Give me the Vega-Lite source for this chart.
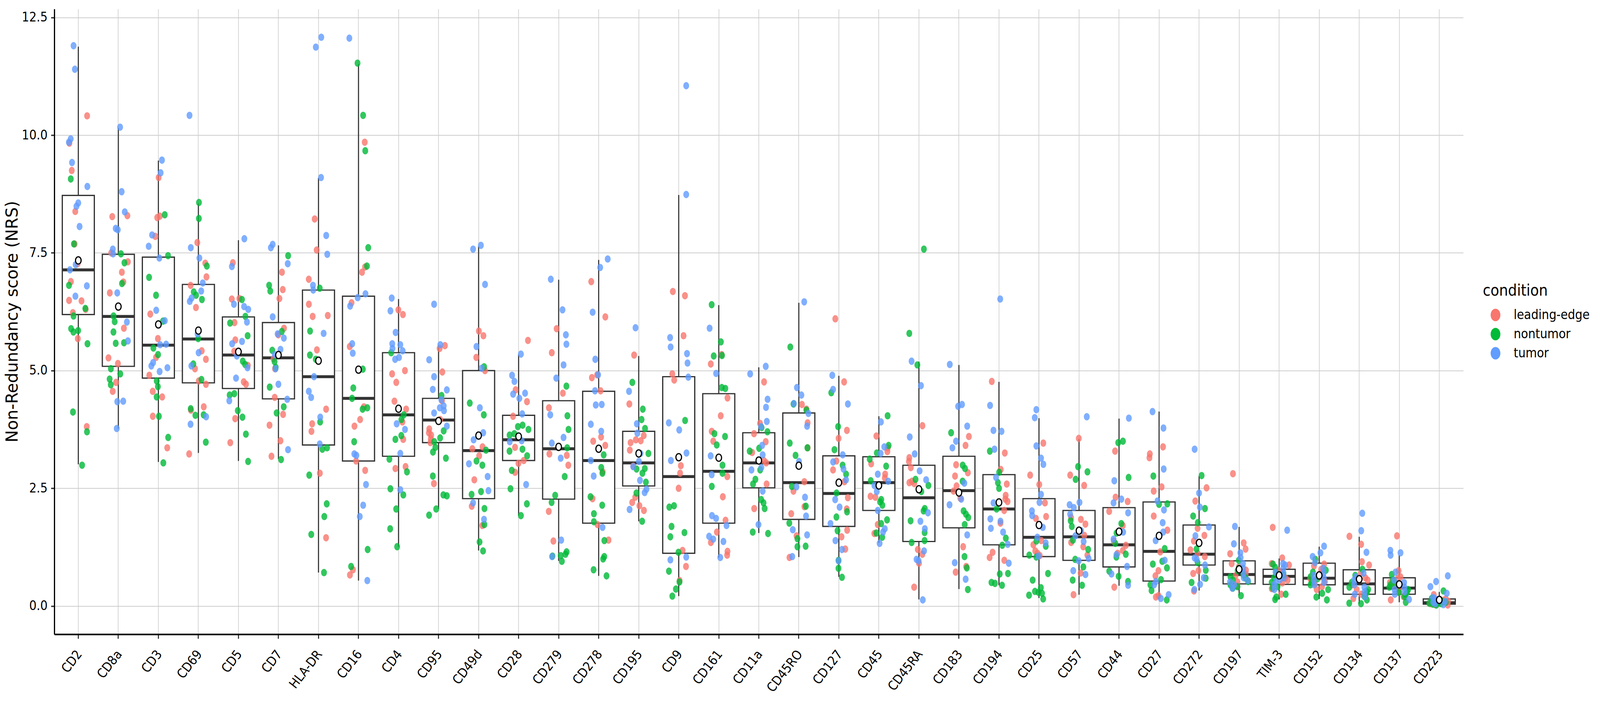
{
  "$schema": "https://vega.github.io/schema/vega-lite/v6.json",
  "description": "Non-Redundancy scores per marker: boxplots with jittered samples coloured by condition and mean points.",
  "width": 3607,
  "height": 1601,
  "autosize": {"type": "none"},
  "padding": {"left": 139, "top": 23, "right": 350, "bottom": 176},
  "background": "white",
  "config": {
    "font": "DejaVu Sans",
    "view": {"stroke": null},
    "axis": {
      "labelColor": "#000000",
      "titleFont": "DejaVu Sans",
      "titleFontSize": 42,
      "titleFontWeight": "normal",
      "titleColor": "#000000",
      "domainColor": "#000000",
      "tickColor": "#333333",
      "gridColor": "#cccccc"
    },
    "axisX": {
      "labelFont": "DejaVu Sans Condensed",
      "labelFontSize": 33,
      "domainWidth": 4,
      "tickWidth": 2.8,
      "tickSize": 11,
      "gridWidth": 1.6
    },
    "axisY": {
      "labelFont": "DejaVu Sans Condensed",
      "labelFontSize": 33,
      "domainWidth": 3.1,
      "tickWidth": 3.5,
      "tickSize": 8.6,
      "gridWidth": 2
    },
    "legend": {
      "titleFont": "DejaVu Sans Condensed",
      "titleFontSize": 40,
      "titleFontWeight": "normal",
      "titleColor": "#000000",
      "titleLimit": 400,
      "labelFont": "DejaVu Sans Condensed",
      "labelFontSize": 33,
      "labelColor": "#000000",
      "labelLimit": 400
    }
  },
  "datasets": {
    "stats": [
      {"m": "CD2", "lo": 3.01, "q1": 6.19, "med": 7.14, "q3": 8.72, "hi": 11.88, "mean": 7.34},
      {"m": "CD8a", "lo": 3.77, "q1": 5.09, "med": 6.15, "q3": 7.47, "hi": 10.15, "mean": 6.36},
      {"m": "CD3", "lo": 3.06, "q1": 4.84, "med": 5.54, "q3": 7.41, "hi": 9.46, "mean": 5.98},
      {"m": "CD69", "lo": 3.25, "q1": 4.74, "med": 5.67, "q3": 6.83, "hi": 8.55, "mean": 5.85},
      {"m": "CD5", "lo": 3.08, "q1": 4.62, "med": 5.33, "q3": 6.14, "hi": 7.77, "mean": 5.4},
      {"m": "CD7", "lo": 3.12, "q1": 4.4, "med": 5.27, "q3": 6.02, "hi": 7.66, "mean": 5.33},
      {"m": "HLA-DR", "lo": 0.71, "q1": 3.42, "med": 4.87, "q3": 6.71, "hi": 9.09, "mean": 5.21},
      {"m": "CD16", "lo": 0.54, "q1": 3.08, "med": 4.41, "q3": 6.58, "hi": 11.51, "mean": 5.02},
      {"m": "CD4", "lo": 1.26, "q1": 3.18, "med": 4.06, "q3": 5.38, "hi": 6.52, "mean": 4.19},
      {"m": "CD95", "lo": 2.06, "q1": 3.47, "med": 3.95, "q3": 4.41, "hi": 5.54, "mean": 3.93},
      {"m": "CD49d", "lo": 1.18, "q1": 2.28, "med": 3.3, "q3": 5.0, "hi": 7.64, "mean": 3.62},
      {"m": "CD28", "lo": 1.92, "q1": 3.09, "med": 3.53, "q3": 4.05, "hi": 5.34, "mean": 3.6},
      {"m": "CD279", "lo": 0.96, "q1": 2.27, "med": 3.34, "q3": 4.36, "hi": 6.93, "mean": 3.38},
      {"m": "CD278", "lo": 0.64, "q1": 1.76, "med": 3.09, "q3": 4.56, "hi": 7.35, "mean": 3.34},
      {"m": "CD195", "lo": 1.8, "q1": 2.55, "med": 3.04, "q3": 3.71, "hi": 5.31, "mean": 3.24},
      {"m": "CD9", "lo": 0.21, "q1": 1.12, "med": 2.75, "q3": 4.87, "hi": 8.73, "mean": 3.16},
      {"m": "CD161", "lo": 1.03, "q1": 1.76, "med": 2.86, "q3": 4.51, "hi": 6.39, "mean": 3.15},
      {"m": "CD11a", "lo": 1.55, "q1": 2.51, "med": 3.04, "q3": 3.68, "hi": 5.07, "mean": 3.09},
      {"m": "CD45RO", "lo": 1.04, "q1": 1.84, "med": 2.62, "q3": 4.1, "hi": 6.44, "mean": 2.98},
      {"m": "CD127", "lo": 0.62, "q1": 1.69, "med": 2.39, "q3": 3.19, "hi": 4.89, "mean": 2.62},
      {"m": "CD45", "lo": 1.34, "q1": 2.03, "med": 2.62, "q3": 3.17, "hi": 4.03, "mean": 2.56},
      {"m": "CD45RA", "lo": 0.14, "q1": 1.37, "med": 2.3, "q3": 2.99, "hi": 5.19, "mean": 2.48},
      {"m": "CD183", "lo": 0.36, "q1": 1.66, "med": 2.45, "q3": 3.18, "hi": 5.12, "mean": 2.41},
      {"m": "CD194", "lo": 0.44, "q1": 1.3, "med": 2.06, "q3": 2.79, "hi": 4.76, "mean": 2.2},
      {"m": "CD25", "lo": 0.17, "q1": 1.05, "med": 1.46, "q3": 2.28, "hi": 3.99, "mean": 1.72},
      {"m": "CD57", "lo": 0.24, "q1": 0.97, "med": 1.47, "q3": 2.03, "hi": 3.55, "mean": 1.6},
      {"m": "CD44", "lo": 0.43, "q1": 0.83, "med": 1.3, "q3": 2.09, "hi": 3.98, "mean": 1.58},
      {"m": "CD27", "lo": 0.14, "q1": 0.53, "med": 1.16, "q3": 2.21, "hi": 4.13, "mean": 1.49},
      {"m": "CD272", "lo": 0.33, "q1": 0.87, "med": 1.1, "q3": 1.72, "hi": 2.76, "mean": 1.34},
      {"m": "CD197", "lo": 0.23, "q1": 0.47, "med": 0.67, "q3": 0.96, "hi": 1.68, "mean": 0.78},
      {"m": "TIM-3", "lo": 0.14, "q1": 0.46, "med": 0.63, "q3": 0.78, "hi": 1.01, "mean": 0.65},
      {"m": "CD152", "lo": 0.15, "q1": 0.45, "med": 0.59, "q3": 0.91, "hi": 1.26, "mean": 0.65},
      {"m": "CD134", "lo": 0.05, "q1": 0.25, "med": 0.47, "q3": 0.77, "hi": 1.47, "mean": 0.57},
      {"m": "CD137", "lo": 0.08, "q1": 0.25, "med": 0.38, "q3": 0.6, "hi": 1.08, "mean": 0.46},
      {"m": "CD223", "lo": 0.0, "q1": 0.04, "med": 0.07, "q3": 0.15, "hi": 0.3, "mean": 0.13}
    ],
    "leadingEdge": [
      {"m":"CD2","v":10.41},{"m":"CD2","v":9.83},{"m":"CD2","v":9.25},{"m":"CD2","v":8.38},{"m":"CD2","v":7.69},{"m":"CD2","v":7.27},{"m":"CD2","v":6.89},{"m":"CD2","v":6.49},{"m":"CD2","v":6.48},{"m":"CD2","v":6.3},{"m":"CD2","v":6.23},{"m":"CD2","v":5.68},{"m":"CD2","v":3.81},
      {"m":"CD8a","v":8.29},{"m":"CD8a","v":8.27},{"m":"CD8a","v":7.5},{"m":"CD8a","v":7.31},{"m":"CD8a","v":7.09},{"m":"CD8a","v":6.88},{"m":"CD8a","v":6.65},{"m":"CD8a","v":5.9},{"m":"CD8a","v":5.27},{"m":"CD8a","v":5.15},{"m":"CD8a","v":4.75},{"m":"CD8a","v":4.56},
      {"m":"CD3","v":9.1},{"m":"CD3","v":8.28},{"m":"CD3","v":8.25},{"m":"CD3","v":7.85},{"m":"CD3","v":6.2},{"m":"CD3","v":5.68},{"m":"CD3","v":5.28},{"m":"CD3","v":4.9},{"m":"CD3","v":4.56},{"m":"CD3","v":4.44},{"m":"CD3","v":4.03},{"m":"CD3","v":3.36},
      {"m":"CD69","v":7.72},{"m":"CD69","v":7.28},{"m":"CD69","v":6.99},{"m":"CD69","v":6.81},{"m":"CD69","v":6.34},{"m":"CD69","v":5.42},{"m":"CD69","v":5.24},{"m":"CD69","v":5.04},{"m":"CD69","v":4.78},{"m":"CD69","v":4.71},{"m":"CD69","v":4.23},{"m":"CD69","v":4.16},{"m":"CD69","v":3.23},
      {"m":"CD5","v":7.29},{"m":"CD5","v":6.53},{"m":"CD5","v":6.52},{"m":"CD5","v":6.02},{"m":"CD5","v":5.65},{"m":"CD5","v":5.41},{"m":"CD5","v":5.11},{"m":"CD5","v":4.76},{"m":"CD5","v":4.71},{"m":"CD5","v":3.98},{"m":"CD5","v":3.47},
      {"m":"CD7","v":7.09},{"m":"CD7","v":6.72},{"m":"CD7","v":6.53},{"m":"CD7","v":5.9},{"m":"CD7","v":5.76},{"m":"CD7","v":5.25},{"m":"CD7","v":5.04},{"m":"CD7","v":4.43},{"m":"CD7","v":4.07},{"m":"CD7","v":3.84},{"m":"CD7","v":3.51},{"m":"CD7","v":3.18},
      {"m":"HLA-DR","v":8.22},{"m":"HLA-DR","v":7.56},{"m":"HLA-DR","v":6.94},{"m":"HLA-DR","v":6.41},{"m":"HLA-DR","v":6.17},{"m":"HLA-DR","v":6.15},{"m":"HLA-DR","v":5.44},{"m":"HLA-DR","v":4.18},{"m":"HLA-DR","v":3.87},{"m":"HLA-DR","v":3.71},{"m":"HLA-DR","v":2.82},{"m":"HLA-DR","v":1.45},
      {"m":"CD16","v":9.85},{"m":"CD16","v":7.2},{"m":"CD16","v":7.09},{"m":"CD16","v":6.44},{"m":"CD16","v":5.51},{"m":"CD16","v":4.23},{"m":"CD16","v":3.96},{"m":"CD16","v":3.82},{"m":"CD16","v":3.08},{"m":"CD16","v":2.88},{"m":"CD16","v":0.77},{"m":"CD16","v":0.66},
      {"m":"CD4","v":6.29},{"m":"CD4","v":6.19},{"m":"CD4","v":5.0},{"m":"CD4","v":4.93},{"m":"CD4","v":4.75},{"m":"CD4","v":4.35},{"m":"CD4","v":3.91},{"m":"CD4","v":4.18},{"m":"CD4","v":3.54},{"m":"CD4","v":2.96},{"m":"CD4","v":2.92},
      {"m":"CD95","v":5.53},{"m":"CD95","v":5.47},{"m":"CD95","v":4.97},{"m":"CD95","v":4.36},{"m":"CD95","v":3.96},{"m":"CD95","v":3.76},{"m":"CD95","v":3.68},{"m":"CD95","v":3.63},{"m":"CD95","v":3.55},{"m":"CD95","v":3.47},{"m":"CD95","v":2.6},
      {"m":"CD49d","v":5.84},{"m":"CD49d","v":5.74},{"m":"CD49d","v":5.28},{"m":"CD49d","v":5.0},{"m":"CD49d","v":3.38},{"m":"CD49d","v":3.34},{"m":"CD49d","v":3.19},{"m":"CD49d","v":2.68},{"m":"CD49d","v":2.12},{"m":"CD49d","v":1.71},
      {"m":"CD28","v":5.64},{"m":"CD28","v":4.59},{"m":"CD28","v":4.34},{"m":"CD28","v":4.03},{"m":"CD28","v":3.37},{"m":"CD28","v":3.09},{"m":"CD28","v":2.84},{"m":"CD28","v":3.03},
      {"m":"CD279","v":5.89},{"m":"CD279","v":5.38},{"m":"CD279","v":4.52},{"m":"CD279","v":4.21},{"m":"CD279","v":3.23},{"m":"CD279","v":3.2},{"m":"CD279","v":2.99},{"m":"CD279","v":2.01},{"m":"CD279","v":1.38},
      {"m":"CD278","v":6.89},{"m":"CD278","v":6.14},{"m":"CD278","v":4.91},{"m":"CD278","v":4.85},{"m":"CD278","v":4.57},{"m":"CD278","v":3.59},{"m":"CD278","v":3.5},{"m":"CD278","v":3.41},{"m":"CD278","v":2.85},{"m":"CD278","v":2.28},{"m":"CD278","v":1.73},{"m":"CD278","v":1.4},
      {"m":"CD195","v":5.33},{"m":"CD195","v":4.29},{"m":"CD195","v":3.62},{"m":"CD195","v":3.53},{"m":"CD195","v":3.51},{"m":"CD195","v":3.47},{"m":"CD195","v":3.31},{"m":"CD195","v":2.97},{"m":"CD195","v":2.31},{"m":"CD195","v":2.2},{"m":"CD195","v":2.13},{"m":"CD195","v":2.03},
      {"m":"CD9","v":6.68},{"m":"CD9","v":6.59},{"m":"CD9","v":5.74},{"m":"CD9","v":4.93},{"m":"CD9","v":4.8},{"m":"CD9","v":2.98},{"m":"CD9","v":2.82},{"m":"CD9","v":2.5},{"m":"CD9","v":1.18},{"m":"CD9","v":0.84},{"m":"CD9","v":0.54},
      {"m":"CD161","v":5.34},{"m":"CD161","v":5.14},{"m":"CD161","v":4.42},{"m":"CD161","v":4.04},{"m":"CD161","v":3.71},{"m":"CD161","v":3.5},{"m":"CD161","v":2.75},{"m":"CD161","v":2.32},{"m":"CD161","v":1.82},{"m":"CD161","v":1.57},{"m":"CD161","v":1.35},{"m":"CD161","v":1.16},{"m":"CD161","v":1.08},
      {"m":"CD11a","v":4.76},{"m":"CD11a","v":3.88},{"m":"CD11a","v":3.66},{"m":"CD11a","v":3.49},{"m":"CD11a","v":3.26},{"m":"CD11a","v":3.09},{"m":"CD11a","v":3.04},{"m":"CD11a","v":2.59},{"m":"CD11a","v":2.07},
      {"m":"CD45RO","v":4.28},{"m":"CD45RO","v":4.18},{"m":"CD45RO","v":3.89},{"m":"CD45RO","v":3.36},{"m":"CD45RO","v":2.64},{"m":"CD45RO","v":2.44},{"m":"CD45RO","v":1.96},{"m":"CD45RO","v":1.49},{"m":"CD45RO","v":1.03},{"m":"CD45RO","v":2.11},
      {"m":"CD127","v":6.1},{"m":"CD127","v":4.76},{"m":"CD127","v":3.73},{"m":"CD127","v":3.56},{"m":"CD127","v":3.08},{"m":"CD127","v":2.89},{"m":"CD127","v":2.64},{"m":"CD127","v":2.3},{"m":"CD127","v":2.06},{"m":"CD127","v":1.61},{"m":"CD127","v":1.47},{"m":"CD127","v":1.21},
      {"m":"CD45","v":3.61},{"m":"CD45","v":3.36},{"m":"CD45","v":3.28},{"m":"CD45","v":3.02},{"m":"CD45","v":2.8},{"m":"CD45","v":2.72},{"m":"CD45","v":2.33},{"m":"CD45","v":2.31},{"m":"CD45","v":1.73},{"m":"CD45","v":1.54},
      {"m":"CD45RA","v":3.83},{"m":"CD45RA","v":3.15},{"m":"CD45RA","v":3.07},{"m":"CD45RA","v":2.94},{"m":"CD45RA","v":2.65},{"m":"CD45RA","v":2.62},{"m":"CD45RA","v":2.6},{"m":"CD45RA","v":1.2},{"m":"CD45RA","v":1.1},{"m":"CD45RA","v":0.91},{"m":"CD45RA","v":0.4},
      {"m":"CD183","v":3.6},{"m":"CD183","v":3.41},{"m":"CD183","v":3.0},{"m":"CD183","v":2.83},{"m":"CD183","v":2.76},{"m":"CD183","v":2.55},{"m":"CD183","v":2.44},{"m":"CD183","v":2.29},{"m":"CD183","v":1.26},{"m":"CD183","v":0.84},{"m":"CD183","v":0.72},
      {"m":"CD194","v":4.77},{"m":"CD194","v":3.25},{"m":"CD194","v":2.9},{"m":"CD194","v":2.59},{"m":"CD194","v":2.35},{"m":"CD194","v":2.27},{"m":"CD194","v":2.22},{"m":"CD194","v":2.03},{"m":"CD194","v":1.76},{"m":"CD194","v":1.14},{"m":"CD194","v":1.03},{"m":"CD194","v":0.97},
      {"m":"CD25","v":3.46},{"m":"CD25","v":2.78},{"m":"CD25","v":2.58},{"m":"CD25","v":2.19},{"m":"CD25","v":1.9},{"m":"CD25","v":1.86},{"m":"CD25","v":1.39},{"m":"CD25","v":1.3},{"m":"CD25","v":1.17},{"m":"CD25","v":1.12},{"m":"CD25","v":1.07},
      {"m":"CD57","v":3.56},{"m":"CD57","v":2.78},{"m":"CD57","v":2.56},{"m":"CD57","v":1.88},{"m":"CD57","v":1.84},{"m":"CD57","v":1.74},{"m":"CD57","v":1.5},{"m":"CD57","v":1.35},{"m":"CD57","v":1.26},{"m":"CD57","v":1.08},{"m":"CD57","v":0.7},{"m":"CD57","v":0.24},
      {"m":"CD44","v":3.29},{"m":"CD44","v":2.31},{"m":"CD44","v":2.22},{"m":"CD44","v":2.01},{"m":"CD44","v":1.71},{"m":"CD44","v":1.38},{"m":"CD44","v":1.29},{"m":"CD44","v":1.18},{"m":"CD44","v":1.12},{"m":"CD44","v":0.4},
      {"m":"CD27","v":3.38},{"m":"CD27","v":3.23},{"m":"CD27","v":3.15},{"m":"CD27","v":2.53},{"m":"CD27","v":2.44},{"m":"CD27","v":1.91},{"m":"CD27","v":1.61},{"m":"CD27","v":1.15},{"m":"CD27","v":0.75},{"m":"CD27","v":0.64},{"m":"CD27","v":0.22},{"m":"CD27","v":0.19},
      {"m":"CD272","v":2.51},{"m":"CD272","v":2.23},{"m":"CD272","v":1.65},{"m":"CD272","v":1.5},{"m":"CD272","v":1.38},{"m":"CD272","v":1.19},{"m":"CD272","v":1.12},{"m":"CD272","v":1.05},{"m":"CD272","v":0.75},{"m":"CD272","v":0.69},{"m":"CD272","v":0.32},
      {"m":"CD197","v":2.81},{"m":"CD197","v":1.34},{"m":"CD197","v":1.21},{"m":"CD197","v":1.11},{"m":"CD197","v":0.83},{"m":"CD197","v":0.76},{"m":"CD197","v":0.64},{"m":"CD197","v":0.51},{"m":"CD197","v":0.43},{"m":"CD197","v":0.68},{"m":"CD197","v":0.9},
      {"m":"TIM-3","v":1.67},{"m":"TIM-3","v":1.02},{"m":"TIM-3","v":0.87},{"m":"TIM-3","v":0.75},{"m":"TIM-3","v":0.49},{"m":"TIM-3","v":0.37},{"m":"TIM-3","v":0.25},{"m":"TIM-3","v":0.7},{"m":"TIM-3","v":0.6},{"m":"TIM-3","v":0.55},{"m":"TIM-3","v":0.9},
      {"m":"CD152","v":0.89},{"m":"CD152","v":0.78},{"m":"CD152","v":0.41},{"m":"CD152","v":0.35},{"m":"CD152","v":0.62},{"m":"CD152","v":0.52},{"m":"CD152","v":0.7},{"m":"CD152","v":0.48},{"m":"CD152","v":0.85},{"m":"CD152","v":0.58},
      {"m":"CD134","v":1.48},{"m":"CD134","v":1.31},{"m":"CD134","v":0.94},{"m":"CD134","v":0.87},{"m":"CD134","v":0.45},{"m":"CD134","v":0.35},{"m":"CD134","v":0.16},{"m":"CD134","v":0.6},{"m":"CD134","v":0.55},{"m":"CD134","v":0.7},{"m":"CD134","v":0.25},
      {"m":"CD137","v":1.49},{"m":"CD137","v":0.75},{"m":"CD137","v":0.59},{"m":"CD137","v":0.13},{"m":"CD137","v":0.45},{"m":"CD137","v":0.3},{"m":"CD137","v":0.5},{"m":"CD137","v":0.38},{"m":"CD137","v":0.2},{"m":"CD137","v":0.62},
      {"m":"CD223","v":0.24},{"m":"CD223","v":0.06},{"m":"CD223","v":0.1},{"m":"CD223","v":0.05},{"m":"CD223","v":0.08},{"m":"CD223","v":0.12},{"m":"CD223","v":0.03},{"m":"CD223","v":0.15},{"m":"CD223","v":0.09},{"m":"CD223","v":0.02}
    ],
    "nontumor": [
      {"m":"CD2","v":9.07},{"m":"CD2","v":7.69},{"m":"CD2","v":6.81},{"m":"CD2","v":6.32},{"m":"CD2","v":6.16},{"m":"CD2","v":5.89},{"m":"CD2","v":5.85},{"m":"CD2","v":5.82},{"m":"CD2","v":5.57},{"m":"CD2","v":4.12},{"m":"CD2","v":3.7},{"m":"CD2","v":2.99},
      {"m":"CD8a","v":7.48},{"m":"CD8a","v":7.29},{"m":"CD8a","v":6.85},{"m":"CD8a","v":6.16},{"m":"CD8a","v":6.04},{"m":"CD8a","v":5.82},{"m":"CD8a","v":5.58},{"m":"CD8a","v":5.59},{"m":"CD8a","v":5.04},{"m":"CD8a","v":4.93},{"m":"CD8a","v":4.82},{"m":"CD8a","v":4.7},
      {"m":"CD3","v":8.31},{"m":"CD3","v":7.44},{"m":"CD3","v":6.98},{"m":"CD3","v":6.6},{"m":"CD3","v":6.05},{"m":"CD3","v":5.48},{"m":"CD3","v":5.34},{"m":"CD3","v":4.78},{"m":"CD3","v":4.66},{"m":"CD3","v":4.44},{"m":"CD3","v":4.03},{"m":"CD3","v":3.58},{"m":"CD3","v":3.04},
      {"m":"CD69","v":8.57},{"m":"CD69","v":8.23},{"m":"CD69","v":7.22},{"m":"CD69","v":6.67},{"m":"CD69","v":6.6},{"m":"CD69","v":6.51},{"m":"CD69","v":5.68},{"m":"CD69","v":5.14},{"m":"CD69","v":4.81},{"m":"CD69","v":4.19},{"m":"CD69","v":4.06},{"m":"CD69","v":4.05},{"m":"CD69","v":3.48},
      {"m":"CD5","v":6.51},{"m":"CD5","v":6.15},{"m":"CD5","v":6.01},{"m":"CD5","v":5.74},{"m":"CD5","v":5.2},{"m":"CD5","v":5.13},{"m":"CD5","v":4.51},{"m":"CD5","v":4.48},{"m":"CD5","v":4.15},{"m":"CD5","v":4.01},{"m":"CD5","v":3.65},{"m":"CD5","v":3.07},
      {"m":"CD7","v":7.44},{"m":"CD7","v":6.81},{"m":"CD7","v":6.69},{"m":"CD7","v":5.83},{"m":"CD7","v":5.43},{"m":"CD7","v":5.19},{"m":"CD7","v":5.07},{"m":"CD7","v":4.65},{"m":"CD7","v":4.23},{"m":"CD7","v":4.1},{"m":"CD7","v":3.11},
      {"m":"HLA-DR","v":6.75},{"m":"HLA-DR","v":5.84},{"m":"HLA-DR","v":5.33},{"m":"HLA-DR","v":5.24},{"m":"HLA-DR","v":3.91},{"m":"HLA-DR","v":3.36},{"m":"HLA-DR","v":3.33},{"m":"HLA-DR","v":2.78},{"m":"HLA-DR","v":2.17},{"m":"HLA-DR","v":1.9},{"m":"HLA-DR","v":1.52},{"m":"HLA-DR","v":0.71},
      {"m":"CD16","v":11.53},{"m":"CD16","v":10.42},{"m":"CD16","v":9.67},{"m":"CD16","v":7.61},{"m":"CD16","v":7.22},{"m":"CD16","v":5.03},{"m":"CD16","v":4.63},{"m":"CD16","v":4.41},{"m":"CD16","v":4.21},{"m":"CD16","v":4.18},{"m":"CD16","v":3.49},{"m":"CD16","v":1.2},{"m":"CD16","v":0.84},
      {"m":"CD4","v":5.38},{"m":"CD4","v":4.06},{"m":"CD4","v":3.96},{"m":"CD4","v":3.62},{"m":"CD4","v":3.54},{"m":"CD4","v":3.12},{"m":"CD4","v":2.85},{"m":"CD4","v":2.49},{"m":"CD4","v":2.36},{"m":"CD4","v":2.06},{"m":"CD4","v":1.64},{"m":"CD4","v":1.26},
      {"m":"CD95","v":4.47},{"m":"CD95","v":3.72},{"m":"CD95","v":3.57},{"m":"CD95","v":3.49},{"m":"CD95","v":3.37},{"m":"CD95","v":3.27},{"m":"CD95","v":3.14},{"m":"CD95","v":2.76},{"m":"CD95","v":2.36},{"m":"CD95","v":2.34},{"m":"CD95","v":2.06},{"m":"CD95","v":1.93},
      {"m":"CD49d","v":5.08},{"m":"CD49d","v":4.31},{"m":"CD49d","v":4.06},{"m":"CD49d","v":3.31},{"m":"CD49d","v":3.08},{"m":"CD49d","v":2.99},{"m":"CD49d","v":2.43},{"m":"CD49d","v":2.37},{"m":"CD49d","v":2.07},{"m":"CD49d","v":1.73},{"m":"CD49d","v":1.36},{"m":"CD49d","v":1.17},
      {"m":"CD28","v":3.84},{"m":"CD28","v":3.81},{"m":"CD28","v":3.75},{"m":"CD28","v":3.66},{"m":"CD28","v":3.63},{"m":"CD28","v":3.33},{"m":"CD28","v":3.29},{"m":"CD28","v":3.19},{"m":"CD28","v":2.88},{"m":"CD28","v":2.49},{"m":"CD28","v":2.17},{"m":"CD28","v":1.92},
      {"m":"CD279","v":4.67},{"m":"CD279","v":4.04},{"m":"CD279","v":3.75},{"m":"CD279","v":3.36},{"m":"CD279","v":2.75},{"m":"CD279","v":2.35},{"m":"CD279","v":2.2},{"m":"CD279","v":1.15},{"m":"CD279","v":1.1},{"m":"CD279","v":1.06},{"m":"CD279","v":0.95},{"m":"CD279","v":1.07},
      {"m":"CD278","v":3.21},{"m":"CD278","v":2.94},{"m":"CD278","v":2.82},{"m":"CD278","v":2.32},{"m":"CD278","v":2.14},{"m":"CD278","v":1.96},{"m":"CD278","v":1.79},{"m":"CD278","v":1.39},{"m":"CD278","v":1.05},{"m":"CD278","v":1.0},{"m":"CD278","v":0.77},{"m":"CD278","v":0.64},
      {"m":"CD195","v":4.75},{"m":"CD195","v":4.18},{"m":"CD195","v":3.96},{"m":"CD195","v":3.77},{"m":"CD195","v":3.24},{"m":"CD195","v":2.92},{"m":"CD195","v":2.91},{"m":"CD195","v":2.82},{"m":"CD195","v":2.63},{"m":"CD195","v":2.4},{"m":"CD195","v":1.8},
      {"m":"CD9","v":3.94},{"m":"CD9","v":2.13},{"m":"CD9","v":2.1},{"m":"CD9","v":1.69},{"m":"CD9","v":1.56},{"m":"CD9","v":1.47},{"m":"CD9","v":1.14},{"m":"CD9","v":0.74},{"m":"CD9","v":0.51},{"m":"CD9","v":0.36},{"m":"CD9","v":0.21},
      {"m":"CD161","v":6.4},{"m":"CD161","v":5.61},{"m":"CD161","v":5.32},{"m":"CD161","v":5.31},{"m":"CD161","v":4.64},{"m":"CD161","v":4.62},{"m":"CD161","v":3.66},{"m":"CD161","v":3.6},{"m":"CD161","v":3.42},{"m":"CD161","v":2.99},{"m":"CD161","v":2.82},{"m":"CD161","v":2.54},
      {"m":"CD11a","v":3.79},{"m":"CD11a","v":3.7},{"m":"CD11a","v":3.35},{"m":"CD11a","v":3.29},{"m":"CD11a","v":2.89},{"m":"CD11a","v":2.69},{"m":"CD11a","v":2.59},{"m":"CD11a","v":2.26},{"m":"CD11a","v":2.19},{"m":"CD11a","v":2.07},{"m":"CD11a","v":1.57},{"m":"CD11a","v":1.54},
      {"m":"CD45RO","v":5.5},{"m":"CD45RO","v":4.29},{"m":"CD45RO","v":4.16},{"m":"CD45RO","v":3.46},{"m":"CD45RO","v":3.36},{"m":"CD45RO","v":3.2},{"m":"CD45RO","v":2.54},{"m":"CD45RO","v":2.12},{"m":"CD45RO","v":1.76},{"m":"CD45RO","v":1.43},{"m":"CD45RO","v":1.27},{"m":"CD45RO","v":1.26},
      {"m":"CD127","v":4.53},{"m":"CD127","v":3.81},{"m":"CD127","v":3.32},{"m":"CD127","v":2.99},{"m":"CD127","v":2.8},{"m":"CD127","v":2.4},{"m":"CD127","v":2.0},{"m":"CD127","v":1.89},{"m":"CD127","v":1.6},{"m":"CD127","v":0.97},{"m":"CD127","v":0.8},{"m":"CD127","v":0.61},
      {"m":"CD45","v":4.04},{"m":"CD45","v":3.41},{"m":"CD45","v":3.25},{"m":"CD45","v":3.12},{"m":"CD45","v":2.97},{"m":"CD45","v":2.66},{"m":"CD45","v":2.26},{"m":"CD45","v":2.21},{"m":"CD45","v":2.14},{"m":"CD45","v":1.83},{"m":"CD45","v":1.75},{"m":"CD45","v":1.55},{"m":"CD45","v":1.46},
      {"m":"CD45RA","v":7.58},{"m":"CD45RA","v":5.79},{"m":"CD45RA","v":5.12},{"m":"CD45RA","v":2.69},{"m":"CD45RA","v":2.56},{"m":"CD45RA","v":2.43},{"m":"CD45RA","v":2.07},{"m":"CD45RA","v":2.02},{"m":"CD45RA","v":1.81},{"m":"CD45RA","v":1.56},{"m":"CD45RA","v":1.39},{"m":"CD45RA","v":1.35},
      {"m":"CD183","v":3.68},{"m":"CD183","v":2.99},{"m":"CD183","v":2.92},{"m":"CD183","v":2.65},{"m":"CD183","v":2.02},{"m":"CD183","v":1.95},{"m":"CD183","v":1.88},{"m":"CD183","v":1.73},{"m":"CD183","v":1.05},{"m":"CD183","v":0.81},{"m":"CD183","v":0.35},
      {"m":"CD194","v":3.29},{"m":"CD194","v":2.84},{"m":"CD194","v":2.62},{"m":"CD194","v":2.5},{"m":"CD194","v":2.06},{"m":"CD194","v":1.44},{"m":"CD194","v":1.29},{"m":"CD194","v":0.68},{"m":"CD194","v":0.69},{"m":"CD194","v":0.5},{"m":"CD194","v":0.48},{"m":"CD194","v":0.44},
      {"m":"CD25","v":1.38},{"m":"CD25","v":1.27},{"m":"CD25","v":1.08},{"m":"CD25","v":1.04},{"m":"CD25","v":0.69},{"m":"CD25","v":0.55},{"m":"CD25","v":0.39},{"m":"CD25","v":0.29},{"m":"CD25","v":0.27},{"m":"CD25","v":0.23},{"m":"CD25","v":0.15},{"m":"CD25","v":0.31},
      {"m":"CD57","v":2.96},{"m":"CD57","v":2.85},{"m":"CD57","v":2.69},{"m":"CD57","v":1.81},{"m":"CD57","v":1.69},{"m":"CD57","v":1.4},{"m":"CD57","v":1.2},{"m":"CD57","v":0.99},{"m":"CD57","v":0.83},{"m":"CD57","v":0.55},{"m":"CD57","v":0.44},
      {"m":"CD44","v":3.5},{"m":"CD44","v":3.47},{"m":"CD44","v":2.73},{"m":"CD44","v":1.75},{"m":"CD44","v":1.55},{"m":"CD44","v":1.33},{"m":"CD44","v":1.1},{"m":"CD44","v":1.04},{"m":"CD44","v":0.74},{"m":"CD44","v":0.63},{"m":"CD44","v":0.52},
      {"m":"CD27","v":2.76},{"m":"CD27","v":2.16},{"m":"CD27","v":2.17},{"m":"CD27","v":1.22},{"m":"CD27","v":0.95},{"m":"CD27","v":0.89},{"m":"CD27","v":0.81},{"m":"CD27","v":0.56},{"m":"CD27","v":0.45},{"m":"CD27","v":0.33},{"m":"CD27","v":0.13},
      {"m":"CD272","v":2.77},{"m":"CD272","v":2.07},{"m":"CD272","v":1.91},{"m":"CD272","v":1.77},{"m":"CD272","v":1.21},{"m":"CD272","v":0.92},{"m":"CD272","v":0.76},{"m":"CD272","v":0.59},{"m":"CD272","v":0.5},
      {"m":"CD197","v":0.97},{"m":"CD197","v":0.59},{"m":"CD197","v":0.52},{"m":"CD197","v":0.45},{"m":"CD197","v":0.41},{"m":"CD197","v":0.38},{"m":"CD197","v":0.22},{"m":"CD197","v":0.66},{"m":"CD197","v":0.75},{"m":"CD197","v":0.8},{"m":"CD197","v":0.55},{"m":"CD197","v":0.62},
      {"m":"TIM-3","v":0.89},{"m":"TIM-3","v":0.41},{"m":"TIM-3","v":0.38},{"m":"TIM-3","v":0.25},{"m":"TIM-3","v":0.19},{"m":"TIM-3","v":0.14},{"m":"TIM-3","v":0.6},{"m":"TIM-3","v":0.7},{"m":"TIM-3","v":0.5},{"m":"TIM-3","v":0.82},{"m":"TIM-3","v":0.66},
      {"m":"CD152","v":0.99},{"m":"CD152","v":0.76},{"m":"CD152","v":0.27},{"m":"CD152","v":0.19},{"m":"CD152","v":0.13},{"m":"CD152","v":0.5},{"m":"CD152","v":0.58},{"m":"CD152","v":0.62},{"m":"CD152","v":0.45},{"m":"CD152","v":0.72},{"m":"CD152","v":0.35},
      {"m":"CD134","v":0.78},{"m":"CD134","v":0.25},{"m":"CD134","v":0.13},{"m":"CD134","v":0.06},{"m":"CD134","v":0.05},{"m":"CD134","v":0.3},{"m":"CD134","v":0.4},{"m":"CD134","v":0.5},{"m":"CD134","v":0.2},{"m":"CD134","v":0.65},{"m":"CD134","v":0.35},
      {"m":"CD137","v":0.67},{"m":"CD137","v":0.48},{"m":"CD137","v":0.29},{"m":"CD137","v":0.08},{"m":"CD137","v":0.4},{"m":"CD137","v":0.35},{"m":"CD137","v":0.55},{"m":"CD137","v":0.3},{"m":"CD137","v":0.2},{"m":"CD137","v":0.45},{"m":"CD137","v":0.25},
      {"m":"CD223","v":0.32},{"m":"CD223","v":0.06},{"m":"CD223","v":0.05},{"m":"CD223","v":0.08},{"m":"CD223","v":0.1},{"m":"CD223","v":0.02},{"m":"CD223","v":0.12},{"m":"CD223","v":0.04},{"m":"CD223","v":0.07},{"m":"CD223","v":0.16}
    ],
    "tumor": [
      {"m":"CD2","v":11.9},{"m":"CD2","v":11.4},{"m":"CD2","v":9.92},{"m":"CD2","v":9.85},{"m":"CD2","v":9.42},{"m":"CD2","v":8.91},{"m":"CD2","v":8.56},{"m":"CD2","v":8.49},{"m":"CD2","v":8.06},{"m":"CD2","v":7.25},{"m":"CD2","v":7.14},{"m":"CD2","v":6.8},{"m":"CD2","v":6.58},
      {"m":"CD8a","v":10.17},{"m":"CD8a","v":8.8},{"m":"CD8a","v":8.37},{"m":"CD8a","v":8.02},{"m":"CD8a","v":7.99},{"m":"CD8a","v":7.58},{"m":"CD8a","v":7.48},{"m":"CD8a","v":6.65},{"m":"CD8a","v":6.03},{"m":"CD8a","v":5.63},{"m":"CD8a","v":4.35},{"m":"CD8a","v":4.34},{"m":"CD8a","v":3.77},
      {"m":"CD3","v":9.47},{"m":"CD3","v":9.2},{"m":"CD3","v":7.88},{"m":"CD3","v":7.64},{"m":"CD3","v":7.39},{"m":"CD3","v":6.28},{"m":"CD3","v":6.06},{"m":"CD3","v":5.55},{"m":"CD3","v":5.56},{"m":"CD3","v":5.17},{"m":"CD3","v":5.1},{"m":"CD3","v":5.06},{"m":"CD3","v":4.98},
      {"m":"CD69","v":10.42},{"m":"CD69","v":7.61},{"m":"CD69","v":7.39},{"m":"CD69","v":6.86},{"m":"CD69","v":6.69},{"m":"CD69","v":6.54},{"m":"CD69","v":6.47},{"m":"CD69","v":5.78},{"m":"CD69","v":5.38},{"m":"CD69","v":5.1},{"m":"CD69","v":4.02},{"m":"CD69","v":3.86},
      {"m":"CD5","v":7.8},{"m":"CD5","v":7.21},{"m":"CD5","v":6.41},{"m":"CD5","v":6.36},{"m":"CD5","v":6.3},{"m":"CD5","v":6.03},{"m":"CD5","v":5.62},{"m":"CD5","v":5.57},{"m":"CD5","v":5.31},{"m":"CD5","v":5.06},{"m":"CD5","v":4.84},{"m":"CD5","v":4.36},
      {"m":"CD7","v":7.68},{"m":"CD7","v":7.61},{"m":"CD7","v":7.27},{"m":"CD7","v":6.14},{"m":"CD7","v":5.78},{"m":"CD7","v":5.69},{"m":"CD7","v":5.45},{"m":"CD7","v":5.04},{"m":"CD7","v":4.71},{"m":"CD7","v":4.39},{"m":"CD7","v":3.32},{"m":"CD7","v":5.34},
      {"m":"HLA-DR","v":12.08},{"m":"HLA-DR","v":11.87},{"m":"HLA-DR","v":9.1},{"m":"HLA-DR","v":7.87},{"m":"HLA-DR","v":7.47},{"m":"HLA-DR","v":6.81},{"m":"HLA-DR","v":6.71},{"m":"HLA-DR","v":5.79},{"m":"HLA-DR","v":4.87},{"m":"HLA-DR","v":4.56},{"m":"HLA-DR","v":4.43},{"m":"HLA-DR","v":4.01},{"m":"HLA-DR","v":3.44},
      {"m":"CD16","v":12.06},{"m":"CD16","v":6.63},{"m":"CD16","v":6.55},{"m":"CD16","v":6.37},{"m":"CD16","v":5.57},{"m":"CD16","v":5.37},{"m":"CD16","v":3.23},{"m":"CD16","v":3.2},{"m":"CD16","v":2.58},{"m":"CD16","v":2.14},{"m":"CD16","v":1.9},{"m":"CD16","v":0.54},
      {"m":"CD4","v":6.54},{"m":"CD4","v":6.27},{"m":"CD4","v":5.81},{"m":"CD4","v":5.57},{"m":"CD4","v":5.55},{"m":"CD4","v":5.47},{"m":"CD4","v":5.42},{"m":"CD4","v":5.28},{"m":"CD4","v":5.24},{"m":"CD4","v":3.87},{"m":"CD4","v":3.75},{"m":"CD4","v":3.24},{"m":"CD4","v":2.47},
      {"m":"CD95","v":6.41},{"m":"CD95","v":5.55},{"m":"CD95","v":5.23},{"m":"CD95","v":4.87},{"m":"CD95","v":4.6},{"m":"CD95","v":4.59},{"m":"CD95","v":4.38},{"m":"CD95","v":4.25},{"m":"CD95","v":4.21},{"m":"CD95","v":4.15},{"m":"CD95","v":4.1},{"m":"CD95","v":3.82},
      {"m":"CD49d","v":7.66},{"m":"CD49d","v":7.58},{"m":"CD49d","v":6.83},{"m":"CD49d","v":5.51},{"m":"CD49d","v":5.05},{"m":"CD49d","v":4.21},{"m":"CD49d","v":3.68},{"m":"CD49d","v":3.53},{"m":"CD49d","v":3.02},{"m":"CD49d","v":2.75},{"m":"CD49d","v":2.45},{"m":"CD49d","v":2.19},{"m":"CD49d","v":1.84},
      {"m":"CD28","v":5.35},{"m":"CD28","v":4.9},{"m":"CD28","v":4.77},{"m":"CD28","v":4.52},{"m":"CD28","v":4.5},{"m":"CD28","v":4.41},{"m":"CD28","v":4.08},{"m":"CD28","v":3.51},{"m":"CD28","v":3.49},{"m":"CD28","v":2.58},
      {"m":"CD279","v":6.94},{"m":"CD279","v":6.29},{"m":"CD279","v":5.76},{"m":"CD279","v":5.56},{"m":"CD279","v":5.12},{"m":"CD279","v":4.84},{"m":"CD279","v":4.06},{"m":"CD279","v":3.58},{"m":"CD279","v":3.46},{"m":"CD279","v":3.14},{"m":"CD279","v":1.4},{"m":"CD279","v":1.05},
      {"m":"CD278","v":7.37},{"m":"CD278","v":7.19},{"m":"CD278","v":6.24},{"m":"CD278","v":5.24},{"m":"CD278","v":4.91},{"m":"CD278","v":4.57},{"m":"CD278","v":4.27},{"m":"CD278","v":4.28},{"m":"CD278","v":3.86},{"m":"CD278","v":3.71},{"m":"CD278","v":3.09},{"m":"CD278","v":2.76},{"m":"CD278","v":1.67},
      {"m":"CD195","v":5.91},{"m":"CD195","v":4.56},{"m":"CD195","v":3.87},{"m":"CD195","v":3.67},{"m":"CD195","v":3.24},{"m":"CD195","v":3.07},{"m":"CD195","v":2.96},{"m":"CD195","v":2.67},{"m":"CD195","v":2.48},{"m":"CD195","v":2.41},{"m":"CD195","v":2.05},
      {"m":"CD9","v":11.05},{"m":"CD9","v":8.74},{"m":"CD9","v":5.7},{"m":"CD9","v":5.5},{"m":"CD9","v":5.36},{"m":"CD9","v":5.16},{"m":"CD9","v":4.86},{"m":"CD9","v":3.89},{"m":"CD9","v":3.74},{"m":"CD9","v":3.25},{"m":"CD9","v":3.09},{"m":"CD9","v":0.98},{"m":"CD9","v":1.04},
      {"m":"CD161","v":5.9},{"m":"CD161","v":4.94},{"m":"CD161","v":3.19},{"m":"CD161","v":2.79},{"m":"CD161","v":1.92},{"m":"CD161","v":1.86},{"m":"CD161","v":1.71},{"m":"CD161","v":1.48},{"m":"CD161","v":1.42},{"m":"CD161","v":1.37},{"m":"CD161","v":1.03},
      {"m":"CD11a","v":5.09},{"m":"CD11a","v":4.93},{"m":"CD11a","v":4.39},{"m":"CD11a","v":4.22},{"m":"CD11a","v":3.92},{"m":"CD11a","v":3.81},{"m":"CD11a","v":3.41},{"m":"CD11a","v":3.21},{"m":"CD11a","v":2.94},{"m":"CD11a","v":2.89},{"m":"CD11a","v":2.44},{"m":"CD11a","v":1.73},
      {"m":"CD45RO","v":6.46},{"m":"CD45RO","v":4.64},{"m":"CD45RO","v":4.48},{"m":"CD45RO","v":4.3},{"m":"CD45RO","v":4.09},{"m":"CD45RO","v":3.82},{"m":"CD45RO","v":3.07},{"m":"CD45RO","v":2.53},{"m":"CD45RO","v":2.31},{"m":"CD45RO","v":1.91},{"m":"CD45RO","v":1.62},{"m":"CD45RO","v":1.51},{"m":"CD45RO","v":1.05},
      {"m":"CD127","v":4.9},{"m":"CD127","v":4.6},{"m":"CD127","v":4.29},{"m":"CD127","v":3.21},{"m":"CD127","v":3.06},{"m":"CD127","v":2.91},{"m":"CD127","v":2.68},{"m":"CD127","v":2.26},{"m":"CD127","v":2.1},{"m":"CD127","v":1.75},{"m":"CD127","v":1.39},{"m":"CD127","v":1.2},{"m":"CD127","v":0.96},
      {"m":"CD45","v":3.91},{"m":"CD45","v":3.38},{"m":"CD45","v":3.24},{"m":"CD45","v":2.8},{"m":"CD45","v":2.65},{"m":"CD45","v":2.56},{"m":"CD45","v":2.43},{"m":"CD45","v":2.03},{"m":"CD45","v":1.64},{"m":"CD45","v":1.57},{"m":"CD45","v":1.33},
      {"m":"CD45RA","v":5.2},{"m":"CD45RA","v":4.68},{"m":"CD45RA","v":3.59},{"m":"CD45RA","v":3.23},{"m":"CD45RA","v":2.87},{"m":"CD45RA","v":2.68},{"m":"CD45RA","v":1.98},{"m":"CD45RA","v":1.8},{"m":"CD45RA","v":1.64},{"m":"CD45RA","v":1.17},{"m":"CD45RA","v":0.99},{"m":"CD45RA","v":0.96},{"m":"CD45RA","v":0.13},
      {"m":"CD183","v":5.13},{"m":"CD183","v":4.28},{"m":"CD183","v":4.24},{"m":"CD183","v":3.82},{"m":"CD183","v":3.5},{"m":"CD183","v":3.36},{"m":"CD183","v":2.61},{"m":"CD183","v":2.27},{"m":"CD183","v":2.15},{"m":"CD183","v":1.51},{"m":"CD183","v":0.92},{"m":"CD183","v":0.57},
      {"m":"CD194","v":6.52},{"m":"CD194","v":4.26},{"m":"CD194","v":3.73},{"m":"CD194","v":3.71},{"m":"CD194","v":3.33},{"m":"CD194","v":2.73},{"m":"CD194","v":2.19},{"m":"CD194","v":1.85},{"m":"CD194","v":1.8},{"m":"CD194","v":1.65},{"m":"CD194","v":1.57},{"m":"CD194","v":1.31},{"m":"CD194","v":0.91},
      {"m":"CD25","v":4.17},{"m":"CD25","v":4.0},{"m":"CD25","v":3.4},{"m":"CD25","v":3.14},{"m":"CD25","v":3.01},{"m":"CD25","v":2.37},{"m":"CD25","v":2.2},{"m":"CD25","v":2.02},{"m":"CD25","v":1.92},{"m":"CD25","v":1.67},{"m":"CD25","v":1.46},{"m":"CD25","v":1.34},{"m":"CD25","v":1.06},
      {"m":"CD57","v":4.02},{"m":"CD57","v":2.2},{"m":"CD57","v":2.15},{"m":"CD57","v":2.09},{"m":"CD57","v":1.95},{"m":"CD57","v":1.6},{"m":"CD57","v":1.49},{"m":"CD57","v":1.37},{"m":"CD57","v":1.01},{"m":"CD57","v":0.96},{"m":"CD57","v":0.75},{"m":"CD57","v":0.67},
      {"m":"CD44","v":3.99},{"m":"CD44","v":2.66},{"m":"CD44","v":2.27},{"m":"CD44","v":2.19},{"m":"CD44","v":1.98},{"m":"CD44","v":1.57},{"m":"CD44","v":1.42},{"m":"CD44","v":1.09},{"m":"CD44","v":0.84},{"m":"CD44","v":0.68},{"m":"CD44","v":0.44},
      {"m":"CD27","v":4.13},{"m":"CD27","v":3.78},{"m":"CD27","v":2.91},{"m":"CD27","v":2.23},{"m":"CD27","v":2.04},{"m":"CD27","v":1.77},{"m":"CD27","v":1.57},{"m":"CD27","v":1.39},{"m":"CD27","v":0.97},{"m":"CD27","v":0.52},{"m":"CD27","v":0.45},{"m":"CD27","v":0.24},{"m":"CD27","v":0.16},
      {"m":"CD272","v":3.33},{"m":"CD272","v":2.4},{"m":"CD272","v":2.1},{"m":"CD272","v":1.68},{"m":"CD272","v":1.49},{"m":"CD272","v":1.02},{"m":"CD272","v":0.99},{"m":"CD272","v":0.87},{"m":"CD272","v":0.6},{"m":"CD272","v":0.46},{"m":"CD272","v":0.35},
      {"m":"CD197","v":1.69},{"m":"CD197","v":1.32},{"m":"CD197","v":1.13},{"m":"CD197","v":1.03},{"m":"CD197","v":0.54},{"m":"CD197","v":0.38},{"m":"CD197","v":0.51},{"m":"CD197","v":0.7},{"m":"CD197","v":0.8},{"m":"CD197","v":0.6},{"m":"CD197","v":0.9},{"m":"CD197","v":0.45},
      {"m":"TIM-3","v":1.61},{"m":"TIM-3","v":0.87},{"m":"TIM-3","v":0.6},{"m":"TIM-3","v":0.56},{"m":"TIM-3","v":0.52},{"m":"TIM-3","v":0.45},{"m":"TIM-3","v":0.72},{"m":"TIM-3","v":0.66},{"m":"TIM-3","v":0.8},{"m":"TIM-3","v":0.35},{"m":"TIM-3","v":0.9},{"m":"TIM-3","v":0.7},
      {"m":"CD152","v":1.27},{"m":"CD152","v":1.13},{"m":"CD152","v":1.05},{"m":"CD152","v":0.92},{"m":"CD152","v":0.45},{"m":"CD152","v":0.6},{"m":"CD152","v":0.55},{"m":"CD152","v":0.7},{"m":"CD152","v":0.5},{"m":"CD152","v":0.8},{"m":"CD152","v":0.65},
      {"m":"CD134","v":1.97},{"m":"CD134","v":1.6},{"m":"CD134","v":1.14},{"m":"CD134","v":0.62},{"m":"CD134","v":0.25},{"m":"CD134","v":0.45},{"m":"CD134","v":0.55},{"m":"CD134","v":0.3},{"m":"CD134","v":0.7},{"m":"CD134","v":0.4},{"m":"CD134","v":0.2},
      {"m":"CD137","v":1.18},{"m":"CD137","v":1.13},{"m":"CD137","v":1.08},{"m":"CD137","v":0.72},{"m":"CD137","v":0.14},{"m":"CD137","v":0.4},{"m":"CD137","v":0.3},{"m":"CD137","v":0.5},{"m":"CD137","v":0.35},{"m":"CD137","v":0.25},{"m":"CD137","v":0.55},
      {"m":"CD223","v":0.64},{"m":"CD223","v":0.52},{"m":"CD223","v":0.41},{"m":"CD223","v":0.27},{"m":"CD223","v":0.03},{"m":"CD223","v":0.12},{"m":"CD223","v":0.08},{"m":"CD223","v":0.1},{"m":"CD223","v":0.05},{"m":"CD223","v":0.18},{"m":"CD223","v":0.15}
    ]
  },
  "encoding": {
    "x": {
      "field": "m",
      "type": "nominal",
      "scale": {
        "type": "band",
        "domain": ["CD2", "CD8a", "CD3", "CD69", "CD5", "CD7", "HLA-DR", "CD16", "CD4", "CD95", "CD49d", "CD28", "CD279", "CD278", "CD195", "CD9", "CD161", "CD11a", "CD45RO", "CD127", "CD45", "CD45RA", "CD183", "CD194", "CD25", "CD57", "CD44", "CD27", "CD272", "CD197", "TIM-3", "CD152", "CD134", "CD137", "CD223"],
        "paddingInner": 0,
        "paddingOuter": 0.1
      },
      "axis": {
        "title": null,
        "grid": true,
        "labelAngle": -52,
        "labelAlign": "right",
        "labelBaseline": "middle",
        "labelPadding": 34,
        "labelOffset": 3
      }
    }
  },
  "layer": [
    {
      "data": {"name": "stats"},
      "mark": {"type": "rule", "color": "#333333", "strokeWidth": 2.8},
      "encoding": {
        "y": {
          "field": "lo",
          "type": "quantitative",
          "title": "Non-Redundancy score (NRS)",
          "scale": {"domain": [-0.6, 12.68], "nice": false, "zero": false},
          "axis": {
            "values": [0, 2.5, 5, 7.5, 10, 12.5],
            "format": ".1f",
            "grid": true,
            "labelPadding": 9,
            "titleX": -95,
            "titleY": 800,
            "titleAngle": -90,
            "titleAlign": "center",
            "titleBaseline": "alphabetic"
          }
        },
        "y2": {"field": "hi"}
      }
    },
    {
      "data": {"name": "stats"},
      "mark": {"type": "bar", "width": 82, "fill": "white", "stroke": "#333333", "strokeWidth": 3.1},
      "encoding": {
        "y": {"field": "q1", "type": "quantitative", "title": "Non-Redundancy score (NRS)"},
        "y2": {"field": "q3"}
      }
    },
    {
      "data": {"name": "stats"},
      "mark": {"type": "tick", "orient": "horizontal", "color": "#333333", "opacity": 1, "size": 82, "thickness": 7.5},
      "encoding": {
        "y": {"field": "med", "type": "quantitative", "title": "Non-Redundancy score (NRS)"}
      }
    },
    {
      "data": {"name": "leadingEdge"},
      "transform": [{"calculate": "((datum.v * 37.73 + 0.17) % 1 - 0.5) * 0.5", "as": "j"}],
      "mark": {"type": "point", "filled": true, "shape": "M -0.78 0 A 0.78 1 0 1 0 0.78 0 A 0.78 1 0 1 0 -0.78 0 Z", "size": 306, "opacity": 0.8, "stroke": "#F8766D", "strokeWidth": 1.4},
      "encoding": {
        "xOffset": {"field": "j", "type": "quantitative", "scale": {"domain": [-0.5, 0.5], "range": [0, 102.47]}},
        "y": {"field": "v", "type": "quantitative", "title": "Non-Redundancy score (NRS)"},
        "color": {
          "datum": "leading-edge",
          "type": "nominal",
          "scale": {"domain": ["leading-edge", "nontumor", "tumor"], "range": ["#F8766D", "#00BA38", "#619CFF"]},
          "legend": {
            "title": "condition",
            "orient": "none",
            "legendX": 3657,
            "legendY": 702,
            "padding": 0,
            "symbolType": "M -0.78 0 A 0.78 1 0 1 0 0.78 0 A 0.78 1 0 1 0 -0.78 0 Z",
            "symbolSize": 1024,
            "symbolStrokeWidth": 0,
            "symbolOpacity": 1,
            "symbolOffset": 16,
            "labelOffset": 30,
            "labelLimit": 400,
            "rowPadding": 15,
            "titlePadding": 25
          }
        }
      }
    },
    {
      "data": {"name": "nontumor"},
      "transform": [{"calculate": "((datum.v * 41.19 + 0.53) % 1 - 0.5) * 0.5", "as": "j"}],
      "mark": {"type": "point", "filled": true, "shape": "M -0.78 0 A 0.78 1 0 1 0 0.78 0 A 0.78 1 0 1 0 -0.78 0 Z", "size": 306, "opacity": 0.8, "stroke": "#00BA38", "strokeWidth": 1.4},
      "encoding": {
        "xOffset": {"field": "j", "type": "quantitative", "scale": {"domain": [-0.5, 0.5], "range": [0, 102.47]}},
        "y": {"field": "v", "type": "quantitative", "title": "Non-Redundancy score (NRS)"},
        "color": {"datum": "nontumor", "type": "nominal"}
      }
    },
    {
      "data": {"name": "tumor"},
      "transform": [{"calculate": "((datum.v * 29.87 + 0.81) % 1 - 0.5) * 0.5", "as": "j"}],
      "mark": {"type": "point", "filled": true, "shape": "M -0.78 0 A 0.78 1 0 1 0 0.78 0 A 0.78 1 0 1 0 -0.78 0 Z", "size": 306, "opacity": 0.8, "stroke": "#619CFF", "strokeWidth": 1.4},
      "encoding": {
        "xOffset": {"field": "j", "type": "quantitative", "scale": {"domain": [-0.5, 0.5], "range": [0, 102.47]}},
        "y": {"field": "v", "type": "quantitative", "title": "Non-Redundancy score (NRS)"},
        "color": {"datum": "tumor", "type": "nominal"}
      }
    },
    {
      "data": {"name": "stats"},
      "mark": {"type": "point", "shape": "M -0.78 0 A 0.78 1 0 1 0 0.78 0 A 0.78 1 0 1 0 -0.78 0 Z", "filled": true, "fill": "white", "stroke": "black", "strokeWidth": 3, "size": 342, "opacity": 1},
      "encoding": {
        "y": {"field": "mean", "type": "quantitative", "title": "Non-Redundancy score (NRS)"}
      }
    }
  ]
}
